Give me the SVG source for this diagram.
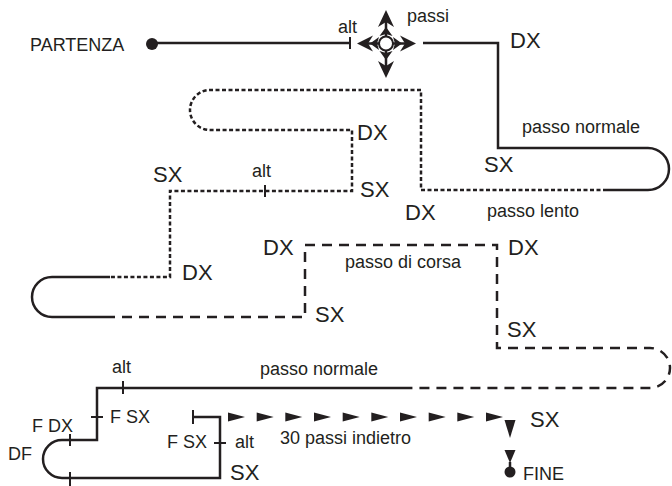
<svg xmlns="http://www.w3.org/2000/svg" width="672" height="486" viewBox="0 0 672 486">
<style>
.ln{fill:none;stroke:#231f20;stroke-width:2.5}
.dot{stroke-dasharray:4 2.5}
.dash{stroke-dasharray:10 7}
.tk{fill:none;stroke:#231f20;stroke-width:2}
.fl{fill:#231f20;stroke:none}
.s{font-family:"Liberation Sans",Arial,sans-serif;font-size:18px;fill:#231f20}
.b{font-family:"Liberation Sans",Arial,sans-serif;font-size:22px;fill:#231f20}
</style>
<rect width="672" height="486" fill="#ffffff"/>
<g id="connectors">
<path class="ln" d="M152,43 H350"/>
<path class="ln" d="M423,43 H498 V148 H648 A21,21 0 0 1 648,190 H607"/>
<path class="ln dot" d="M607,190 H421 V90 H210 A20,20 0 0 0 210,130 H352 V191 H170 V277 H110"/>
<path class="ln" d="M110,277 H52 A20,20 0 0 0 52,317 H105"/>
<path class="ln dash" d="M105,317 H305 V245 H497 V348 H650 A20,20 0 0 1 650,388 H412"/>
<path class="ln" d="M412,388 H97 V440 H62 A19,19 0 0 0 62,478 H220 V417 H193"/>
<path class="tk" d="M350,37 V49 M265,185 V197 M123,381 V394 M91,417 H103 M70,434 V446 M70,472 V486 M214,443 H226 M193,410 V424"/>
<path class="ln" d="M510,462 V472"/>
</g>
<g id="partenza">
<circle cx="152" cy="44" r="6" class="fl"/>
<text class="s" x="30" y="51">PARTENZA</text>
</g>
<g id="cross">
<path class="ln" stroke-width="4" d="M362,43.5 H410 M386,17 V72"/>
<polygon class="fl" points="357,43.5 373,35.5 368,43.5 373,51.5"/>
<polygon class="fl" points="416,43.5 400,35.5 405,43.5 400,51.5"/>
<polygon class="fl" points="386,10 378,27 386,22 394,27"/>
<polygon class="fl" points="386,78 378,61 386,66 394,61"/>
<polygon class="fl" points="370,43.5 379,37 377,43.5 379,50"/>
<polygon class="fl" points="402,43.5 393,37 395,43.5 393,50"/>
<polygon class="fl" points="386,27 379.5,36 386,34 392.5,36"/>
<polygon class="fl" points="386,60 379.5,51 386,53 392.5,51"/>
<circle cx="386" cy="43.5" r="7" fill="#ffffff" stroke="#231f20" stroke-width="2"/>
</g>
<g id="arrows">
<polygon class="fl" points="228,412.5 245,417 228,421.5"/>
<polygon class="fl" points="256.7,412.5 273.7,417 256.7,421.5"/>
<polygon class="fl" points="285.3,412.5 302.3,417 285.3,421.5"/>
<polygon class="fl" points="314,412.5 331,417 314,421.5"/>
<polygon class="fl" points="342.7,412.5 359.7,417 342.7,421.5"/>
<polygon class="fl" points="371.3,412.5 388.3,417 371.3,421.5"/>
<polygon class="fl" points="400,412.5 417,417 400,421.5"/>
<polygon class="fl" points="428.7,412.5 445.7,417 428.7,421.5"/>
<polygon class="fl" points="457.3,412.5 474.3,417 457.3,421.5"/>
<polygon class="fl" points="486,412.5 503,417 486,421.5"/>
<polygon class="fl" points="504.5,420 515.5,420 510,438"/>
<polygon class="fl" points="504.5,450 515.5,450 510,463"/>
</g>
<g id="fine">
<circle cx="510" cy="472" r="5.5" class="fl"/>
<text class="s" x="523" y="480">FINE</text>
</g>
<g id="labels">
<text class="s" x="338" y="33">alt</text>
<text class="s" x="407" y="22">passi</text>
<text class="b" x="510" y="48">DX</text>
<text class="s" x="522" y="133">passo normale</text>
<text class="b" x="484" y="172">SX</text>
<text class="b" x="357" y="140">DX</text>
<text class="b" x="360" y="197">SX</text>
<text class="b" x="405" y="220">DX</text>
<text class="s" x="487" y="217">passo lento</text>
<text class="b" x="153" y="182">SX</text>
<text class="s" x="252" y="177">alt</text>
<text class="b" x="182" y="280">DX</text>
<text class="b" x="263" y="255">DX</text>
<text class="b" x="315" y="322">SX</text>
<text class="s" x="345" y="268">passo di corsa</text>
<text class="b" x="508" y="255">DX</text>
<text class="b" x="507" y="337">SX</text>
<text class="s" x="260" y="375">passo normale</text>
<text class="s" x="112" y="373">alt</text>
<text class="s" x="110" y="423">F SX</text>
<text class="s" x="32" y="432">F DX</text>
<text class="s" x="8" y="460">DF</text>
<text class="s" x="167" y="448">F SX</text>
<text class="s" x="235" y="448">alt</text>
<text class="s" x="280" y="444">30 passi indietro</text>
<text class="b" x="230" y="480">SX</text>
<text class="b" x="530" y="427">SX</text>
</g>
</svg>
